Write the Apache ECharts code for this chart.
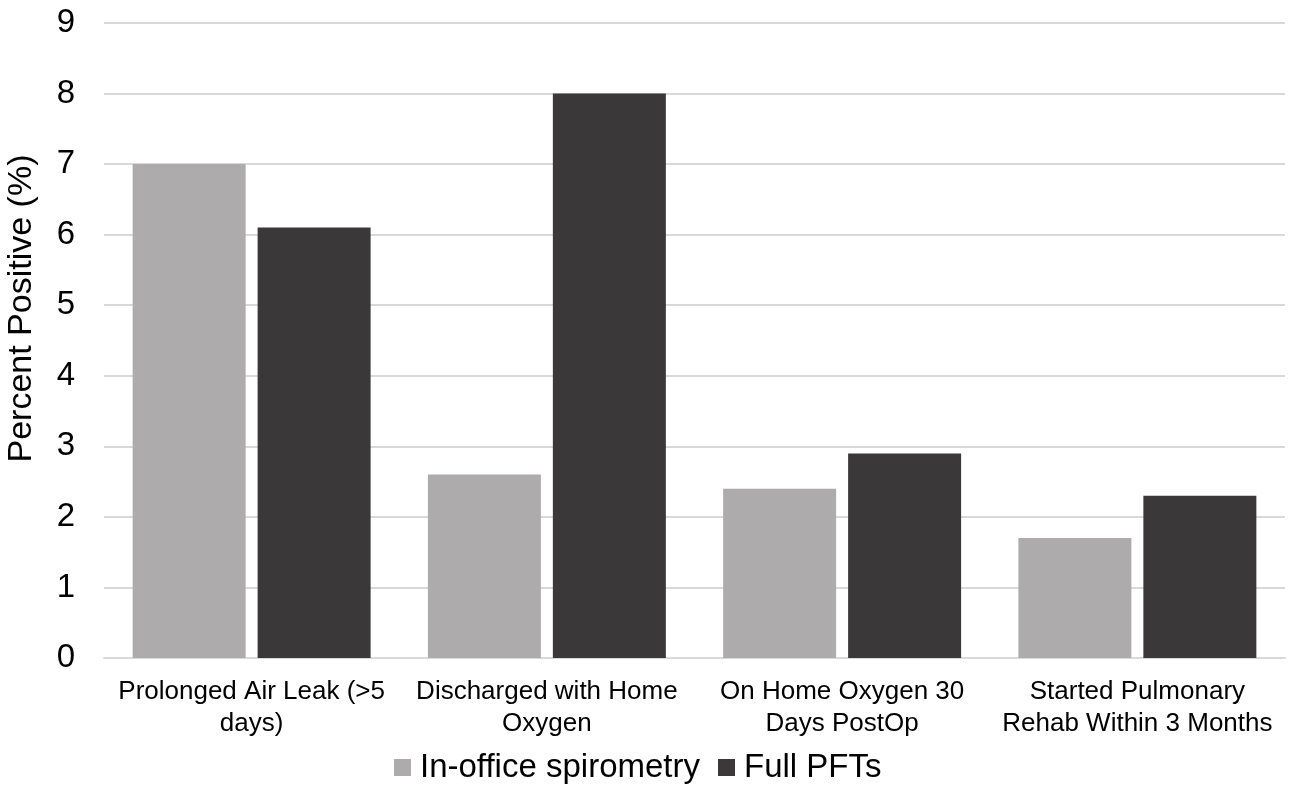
<!DOCTYPE html>
<html>
<head>
<meta charset="utf-8">
<script src="https://cdn.jsdelivr.net/npm/echarts@6/dist/echarts.min.js"></script>
<style>html,body{margin:0;padding:0;background:#fff;}#c{width:1292px;height:789px;}</style>
</head>
<body>
<div id="c"></div>
<script>
const categories = [
  'Prolonged Air Leak (>5\ndays)',
  'Discharged with Home\nOxygen',
  'On Home Oxygen 30\nDays PostOp',
  'Started Pulmonary\nRehab Within 3 Months'
];
const seriesNames = ['In-office spirometry', 'Full PFTs'];
const inOffice = [7.0, 2.6, 2.4, 1.7];
const fullPFTs = [6.1, 8.0, 2.9, 2.3];
const yTicks = [0, 1, 2, 3, 4, 5, 6, 7, 8, 9];

const font = 'Liberation Sans, Arial, sans-serif';
const chart = echarts.init(document.getElementById('c'));
chart.setOption({
  backgroundColor: '#ffffff',
  animation: false,
  grid: { left: 104, right: 7, top: 23, bottom: 131, containLabel: false, outerBoundsMode: 'none' },
  legend: {
    data: seriesNames,
    bottom: 0,
    left: 389,
    itemWidth: 17,
    itemHeight: 17,
    itemGap: 18,
    icon: 'rect',
    textStyle: { fontFamily: font, fontSize: 33, color: '#000', padding: [0, 0, 0, 4] }
  },
  xAxis: {
    type: 'category',
    data: categories,
    axisLine: { lineStyle: { color: '#d9d9d9', width: 2 } },
    axisTick: { show: false },
    axisLabel: { fontFamily: font, fontSize: 26, color: '#000', margin: 18, lineHeight: 32, interval: 0 }
  },
  yAxis: {
    type: 'value',
    min: yTicks[0],
    max: yTicks[yTicks.length - 1],
    interval: 1,
    name: 'Percent Positive (%)',
    nameLocation: 'middle',
    nameGap: 65,
    nameTextStyle: { fontFamily: font, fontSize: 34, color: '#000', padding: [0, 0, 0, 64] },
    axisLine: { show: false },
    axisTick: { show: false },
    axisLabel: { fontFamily: font, fontSize: 33, color: '#000', margin: 29 },
    splitLine: { lineStyle: { color: '#d9d9d9', width: 2 } }
  },
  series: [
    {
      name: seriesNames[0], type: 'bar', data: inOffice,
      barWidth: 113, barGap: '10.6%',
      itemStyle: { color: '#adabab' }
    },
    {
      name: seriesNames[1], type: 'bar', data: fullPFTs,
      barWidth: 113, barGap: '10.6%',
      itemStyle: { color: '#3a3838' }
    }
  ]
});
</script>
</body>
</html>
